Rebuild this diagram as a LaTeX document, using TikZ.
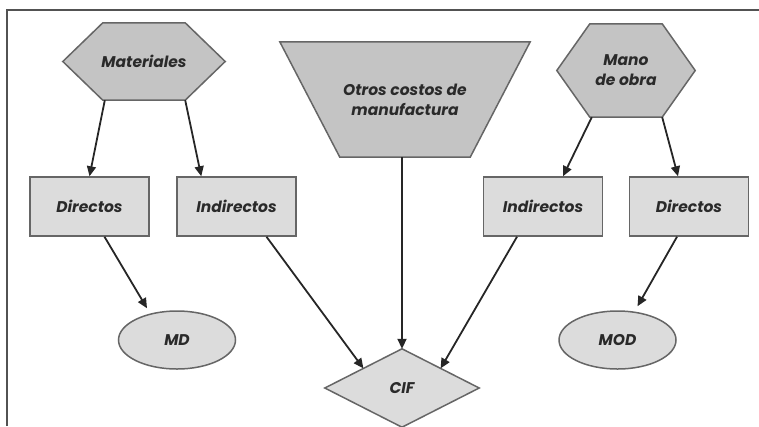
\documentclass[tikz,border=0pt]{standalone}
\usepackage{fontspec}
\setsansfont{Poppins}
\usetikzlibrary{arrows.meta,shapes.geometric,calc,backgrounds}
\definecolor{darkfill}{HTML}{C4C4C4}
\definecolor{boxfill}{HTML}{DCDCDC}
\definecolor{edge}{HTML}{666666}
\definecolor{arr}{HTML}{262626}
\definecolor{txt}{HTML}{2A2A2A}
\begin{document}
\begin{tikzpicture}[x=1pt,y=-1pt,
  lbl/.style={font=\sffamily\bfseries\itshape\fontsize{15.5}{20}\selectfont, text=txt, align=center},
  area/.style={lbl, inner sep=0pt},
  shapeline/.style={draw=edge, line width=1.5pt, line join=miter},
  box/.style={lbl, rectangle, draw=edge, fill=boxfill, line width=1.5pt, minimum width=119pt, minimum height=59pt, inner sep=0pt},
  oval/.style={lbl, ellipse, draw=edge, fill=boxfill, line width=1.5pt, minimum width=117pt, minimum height=58pt, inner sep=0pt},
  link/.style={draw=arr, line width=1.8pt, -{Triangle[length=10pt,width=9pt]}}
]
\useasboundingbox (0,0) rectangle (759,426);
% frame
\draw[draw=edge!80!black, line width=1.5pt] (7,426) coordinate (fbl) -- (7,10) coordinate (ftl) -- (759,10) coordinate (ftr);

% areas (text holders)
\node[area, minimum width=162pt, minimum height=77pt] (mat) at (144,61.5) {Materiales};
\node[area, minimum width=250pt, minimum height=115pt] (oth) at (405,99.5) {Otros costos de\\manufactura};
\node[area, minimum width=138pt, minimum height=93pt] (mano) at (626,70.5) {Mano\\de obra};
\node[area, minimum width=154pt, minimum height=78pt] (cif) at (402,388) {CIF};

\begin{scope}[on background layer]
\draw[shapeline, fill=darkfill] (mat.west) -- ($(mat.north west)+(40,0)$) -- ($(mat.north east)+(-40,0)$) -- (mat.east) -- ($(mat.south east)+(-40,0)$) -- ($(mat.south west)+(40,0)$) -- cycle;
\draw[shapeline, fill=darkfill] (oth.north west) -- (oth.north east) -- ($(oth.south east)+(-60,0)$) -- ($(oth.south west)+(60,0)$) -- cycle;
\draw[shapeline, fill=darkfill] (mano.west) -- ($(mano.north west)+(33,0)$) -- ($(mano.north east)+(-33,0)$) -- (mano.east) -- ($(mano.south east)+(-33,0)$) -- ($(mano.south west)+(33,0)$) -- cycle;
\draw[shapeline, fill=boxfill] (cif.west) -- (cif.north) -- (cif.east) -- (cif.south) -- cycle;
\end{scope}

% boxes
\node[box] (dirL) at (89.5,206.5) {Directos};
\node[box] (indL) at (236.5,206.5) {Indirectos};
\node[box] (indR) at (543,206.5) {Indirectos};
\node[box] (dirR) at (689,206.5) {Directos};

% ellipses
\node[oval] (md) at (177,340) {MD};
\node[oval] (mod) at (617.5,340) {MOD};

% connectors
\draw[link] ($(mat.south west)+(42,0)$) -- (dirL.north);
\draw[link] ($(mat.south east)+(-40,0)$) -- ($(indL.north west)+(25,0)$);
\draw[link] (cif.north |- oth.south) -- (cif.north);
\draw[link] ($(mano.south west)+(35,0)$) -- ($(indR.north)+(20,0)$);
\draw[link] ($(mano.south east)+(-33,0)$) -- ($(dirR.north)+(-11,0)$);
\draw[link] ($(dirL.south)+(15,0)$) -- ($(md.north)+(-30,-2)$);
\draw[link] ($(indL.south)+(30,0)$) -- ($(cif.west)!0.5!(cif.north)$);
\draw[link] ($(indR.south)+(-26,0)$) -- ($(cif.east)!0.5!(cif.north)$);
\draw[link] ($(dirR.south)+(-12,0)$) -- ($(mod.north)+(20,-4)$);
\end{tikzpicture}
\end{document}
